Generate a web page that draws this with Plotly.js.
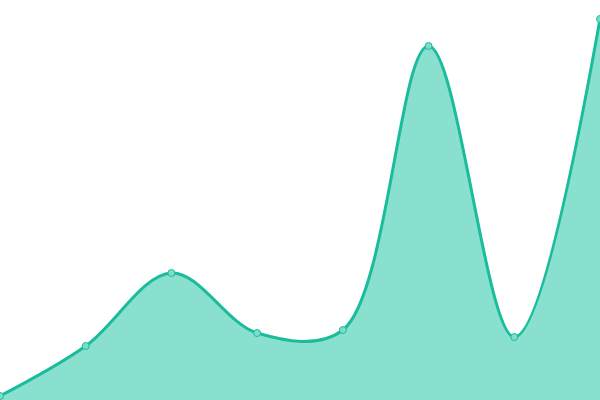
<!DOCTYPE html>
<html>
<head>
<meta charset="utf-8">
<script src="https://cdn.plot.ly/plotly-3.0.1.min.js"></script>
<style>html,body{margin:0;padding:0;background:#fff;}#chart{width:600px;height:400px;}</style>
</head>
<body>
<div id="chart"></div>
<script>
var categories = [0, 1, 2, 3, 4, 5, 6, 7];
var values = [4, 54, 127, 67, 70, 354, 63, 381];

var trace = {
  x: categories,
  y: values,
  type: 'scatter',
  mode: 'lines+markers',
  line: {shape: 'spline', smoothing: 1, color: '#1abc9c', width: 3},
  marker: {size: 7, color: '#7fdcc9', line: {color: '#1abc9c', width: 1}},
  fill: 'tozeroy',
  fillcolor: '#8ae0cf',
  cliponaxis: false,
  hoverinfo: 'none'
};

var layout = {
  width: 600,
  height: 400,
  margin: {l: 0, r: 0, t: 0, b: 0, pad: 0},
  paper_bgcolor: '#ffffff',
  plot_bgcolor: '#ffffff',
  showlegend: false,
  xaxis: {range: [0, 7], visible: false, fixedrange: true},
  yaxis: {range: [0, 400], visible: false, fixedrange: true}
};

Plotly.newPlot('chart', [trace], layout, {displayModeBar: false, staticPlot: true});
</script>
</body>
</html>
